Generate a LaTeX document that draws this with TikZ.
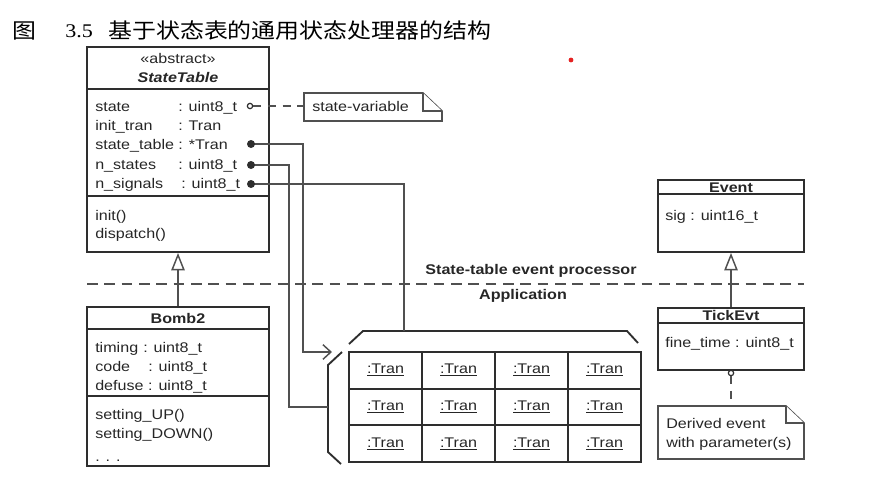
\documentclass[tikz,border=0pt]{standalone}
\usepackage{fontspec}
\setmainfont{Liberation Sans}[FakeStretch=1.15]
\newfontfamily\cjkf{Noto Sans CJK SC}[FakeStretch=1.14]
\newfontfamily\serf{Liberation Serif}[FakeStretch=1.14]
\usetikzlibrary{arrows.meta,fit}
\definecolor{boxc}{HTML}{2E2E2E}
\definecolor{linec}{HTML}{505050}
\definecolor{txtc}{HTML}{262626}
\definecolor{reddot}{HTML}{E52222}
\tikzset{
  classbox/.style={draw=boxc, line width=1.4pt, inner sep=0pt},
  div/.style={draw=boxc, line width=1.4pt},
  conn/.style={draw=linec, line width=1.1pt},
  notebox/.style={draw=linec, line width=1.2pt, fill=white},
  sepline/.style={draw=linec, line width=1.1pt, dash pattern=on 8pt off 5pt},
  t/.style={inner sep=0pt, anchor=west, text=txtc, text height=7.6pt, text depth=0pt,
            font=\fontsize{10.5}{12}\selectfont},
  tc/.style={t, anchor=center},
  tb/.style={tc, font=\fontsize{10.5}{12}\selectfont\bfseries},
  fdot/.style={circle, fill=boxc, inner sep=0pt, minimum size=6pt},
  odot/.style={circle, draw=boxc, fill=white, line width=0.9pt, inner sep=0pt, minimum size=4pt},
  cell/.style={draw=boxc, line width=1.4pt, inner sep=0pt, minimum width=54.75pt,
               minimum height=27.5pt, text=txtc, font=\fontsize{10.5}{12}\selectfont},
  gen/.style={conn, -{Triangle[open, length=13pt, width=10pt, line width=1.1pt]}},
}
\begin{document}
\begin{tikzpicture}[x=0.75pt, y=-0.75pt]
\useasboundingbox (0,0) rectangle (877,493);

% title
\node[anchor=west, inner sep=0pt, text=black, font=\cjkf\fontsize{15.75}{16}\selectfont] (tfig) at (12,31) {图};
\node[anchor=west, inner sep=0pt, text=black, font=\serf\fontsize{14.5}{16}\selectfont] (tnum) at (65,31) {3.5};
\node[anchor=west, inner sep=0pt, text=black, font=\cjkf\fontsize{15.75}{16}\selectfont] (ttxt) at (108,31) {基于状态表的通用状态处理器的结构};
\node[circle, fill=reddot, inner sep=0pt, minimum size=3.6pt] (rd) at (571,60) {};

% StateTable class
\node[classbox, fit={(87,47) (269,252)}] (st) {};
\draw[div] (87,89) -- (269,89);
\draw[div] (87,196) -- (269,196);
\node[tc] (stst) at (178,58) {«abstract»};
\node[tc, font=\fontsize{10.5}{12}\selectfont\bfseries\itshape] (stname) at (178,77) {StateTable};
\node[t] (a1) at (95,106) {state};
\node[t] (a1t) at (178,106) {: uint8\_t};
\node[t] (a2) at (95,125) {init\_tran};
\node[t] (a2t) at (178,125) {: Tran};
\node[t] (a3) at (95,144) {state\_table : *Tran};
\node[t] (a4) at (95,164) {n\_states};
\node[t] (a4t) at (178,164) {: uint8\_t};
\node[t] (a5) at (95,183) {n\_signals};
\node[t] (a5t) at (181,183) {: uint8\_t};
\node[t] (m1) at (95,215) {init()};
\node[t] (m2) at (95,233) {dispatch()};

% state-variable note
\node[inner sep=0pt, fit={(304,93) (442,121)}] (nsv) {};
\draw[notebox] (304,93) -- (423,93) -- (442,111) -- (442,121) -- (304,121) -- cycle;
\draw[notebox] (423,93) -- (423,111) -- (442,111);
\node[t] (nsvt) at (312,106) {state-variable};

% Bomb2 class
\node[classbox, fit={(87,307) (269,466)}] (bomb) {};
\draw[div] (87,329) -- (269,329);
\draw[div] (87,396) -- (269,396);
\node[tb] (bname) at (178,318) {Bomb2};
\node[t] (b1) at (95,347) {timing};
\node[t] (b1t) at (143,347) {: uint8\_t};
\node[t] (b2) at (95,366) {code};
\node[t] (b2t) at (148,366) {: uint8\_t};
\node[t] (b3) at (95,385) {defuse : uint8\_t};
\node[t] (bm1) at (95,414) {setting\_UP()};
\node[t] (bm2) at (95,433) {setting\_DOWN()};
\node[t] (bm3) at (95,456) {. . .};

% Event class
\node[classbox, fit={(658,180) (804,252)}] (ev) {};
\draw[div] (658,194) -- (804,194);
\node[tb] (evname) at (731,187) {Event};
\node[t] (ev1) at (665,215) {sig : uint16\_t};

% TickEvt class
\node[classbox, fit={(658,308) (804,370)}] (tick) {};
\draw[div] (658,323) -- (804,323);
\node[tb] (tkname) at (731,315.5) {TickEvt};
\node[t] (tk1) at (665,342) {fine\_time : uint8\_t};

% Derived event note
\node[inner sep=0pt, fit={(658,406) (804,459)}] (nde) {};
\draw[notebox] (658,406) -- (786,406) -- (804,423) -- (804,459) -- (658,459) -- cycle;
\draw[notebox] (786,406) -- (786,423) -- (804,423);
\node[t] (nde1) at (666,423) {Derived event};
\node[t] (nde2) at (666,442) {with parameter(s)};

% layer separator
\coordinate (sepL) at (87,284);
\coordinate (sepR) at (804,284);
\draw[sepline] (sepL) -- (sepR);
\node[tb] (lay1) at (531,269) {State-table event processor};
\node[tb] (lay2) at (523,294) {Application};

% table of transitions
\foreach \r in {1,2,3} {
  \foreach \c in {1,2,3,4} {
    \node[cell] (c\r\c) at ({349+36.5+73*(\c-1)}, {352+18.33+36.67*(\r-1)}) {\underline{:Tran}};
  }
}
\draw[div] (349,344) -- (363,331) -- (627,331) -- (638,343);
\draw[div] (342,352) -- (328,365) -- (328,452) -- (341,464);
\coordinate (arrA) at (332,352);
\coordinate (brk) at (328,407);
\coordinate (topT) at (404,331);

% connectors from StateTable attributes
\node[odot] (d1) at (250,106) {};
\coordinate (d3) at (251,144);
\coordinate (d4) at (251,165);
\coordinate (d5) at (251,184);
\draw[conn, dash pattern=on 6pt off 5pt] (d1.east) -- (d1.east -| nsv.west);
\draw[conn, -{Straight Barb[length=6pt, width=11pt, line width=1.1pt]}] (d3) -| (303,352) -- (arrA);
\draw[conn] (d4) -| (289,407) -- (brk);
\draw[conn] (d5) -| (topT);
\node[fdot] (fd3) at (d3) {};
\node[fdot] (fd4) at (d4) {};
\node[fdot] (fd5) at (d5) {};

% generalizations
\draw[gen] (bomb.north) -- (st.south);
\draw[gen] (tick.north) -- (ev.south);

% TickEvt to note
\node[odot] (tc0) at (731,373) {};
\draw[conn, dash pattern=on 6pt off 5pt] (tc0.south) -- (nde.north);
\end{tikzpicture}
\end{document}
